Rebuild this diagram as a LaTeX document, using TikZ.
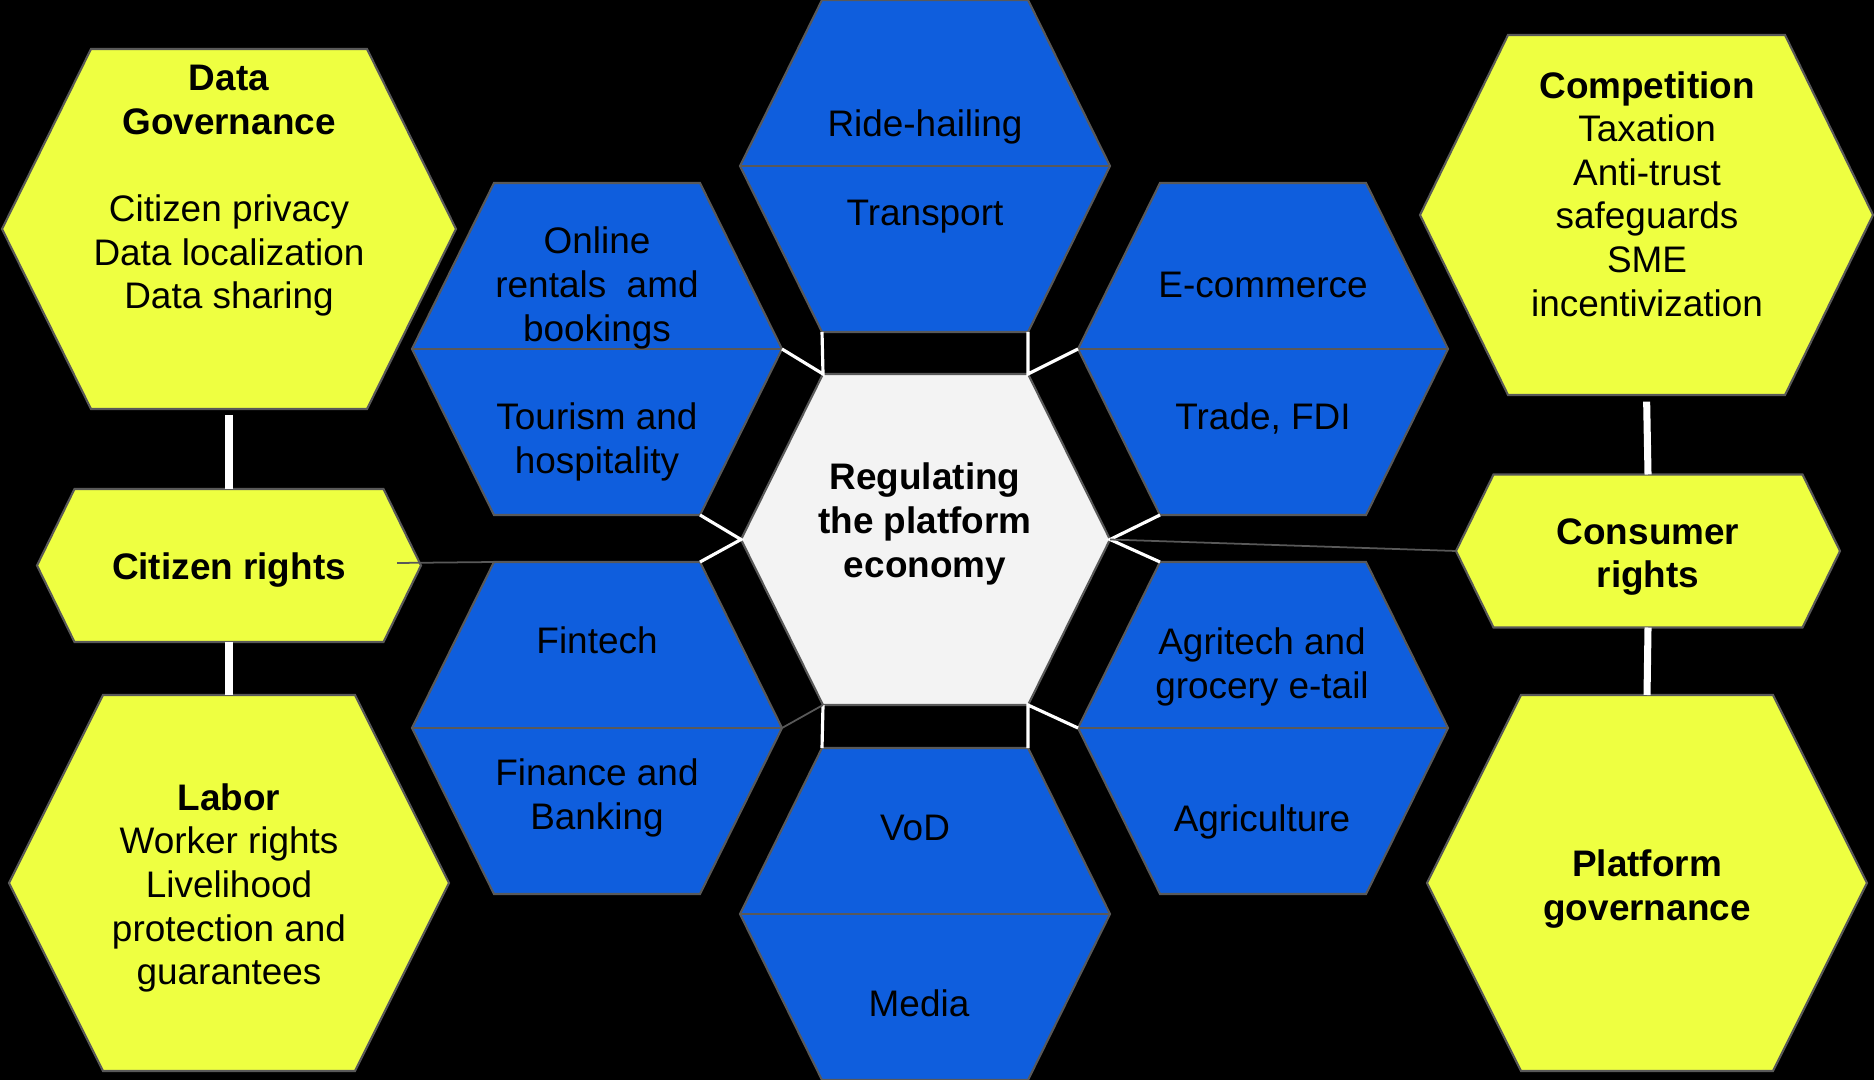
\documentclass[tikz,border=0pt]{standalone}
\usepackage{fontspec}
\setmainfont{Liberation Sans}
\definecolor{secblue}{RGB}{15,94,221}
\definecolor{topicyellow}{RGB}{238,255,65}
\definecolor{hubgray}{RGB}{243,243,243}
\definecolor{edgegray}{RGB}{89,89,89}
% hexagon: name, cx, cy, half width, half top edge, half height, style
\newcommand{\hexcell}[7]{%
  \draw[#7] (#2-#4,#3) coordinate (#1-l)
    -- (#2-#5,#3-#6) coordinate (#1-tl) -- (#2+#5,#3-#6) coordinate (#1-tr)
    -- (#2+#4,#3) coordinate (#1-r)
    -- (#2+#5,#3+#6) coordinate (#1-br) -- (#2-#5,#3+#6) coordinate (#1-bl) -- cycle;
  \coordinate (#1-t) at (#2,#3-#6);
  \coordinate (#1-b) at (#2,#3+#6);
}
\tikzset{
  hexblue/.style={fill=secblue, draw=edgegray, line width=0.6pt},
  hexyellow/.style={fill=topicyellow, draw=edgegray, line width=0.6pt},
  hexhub/.style={fill=hubgray, draw=edgegray, line width=0.6pt},
  lbl/.style={align=center, inner sep=0pt, text=black, font=\fontsize{10.5}{12.4}\selectfont},
  boldlbl/.style={lbl, font=\fontsize{10.5}{12.4}\selectfont\bfseries},
  link/.style={draw=white, line width=0.9pt},
  thinlink/.style={draw=edgegray, line width=0.5pt},
  stem/.style={draw=white, line width=2pt},
}
\begin{document}
\begin{tikzpicture}[x=0.01cm, y=-0.01cm]
\useasboundingbox (0,0) rectangle (1874,1080);
\fill[black] (0,0) rectangle (1874,1080);

% sectors round the hub
\hexcell{T}{925}{166}{185}{103}{166}{hexblue}
\hexcell{B}{925}{914}{185}{103}{166}{hexblue}
\hexcell{UL}{597}{349}{185}{103}{166}{hexblue}
\hexcell{LL}{597}{728}{185}{103}{166}{hexblue}
\hexcell{UR}{1263}{349}{185}{103}{166}{hexblue}
\hexcell{LR}{1263}{728}{185}{103}{166}{hexblue}
\foreach \c in {T,B,UL,LL,UR,LR}
{
	\draw[edgegray, line width=0.6pt] (\c-l) -- (\c-r);
}
\hexcell{H}{925.5}{539.5}{184.5}{102.5}{165.5}{hexhub}

% policy areas
\hexcell{DG}{229}{229}{227}{138}{180}{hexyellow}
\hexcell{CR}{229}{565.5}{192}{154.5}{76.5}{hexyellow}
\hexcell{LB}{229}{883}{220}{126}{188}{hexyellow}
\hexcell{CP}{1646.5}{215}{226.5}{138.5}{180}{hexyellow}
\hexcell{CN}{1648}{551}{192}{154.5}{76.5}{hexyellow}
\hexcell{PG}{1647}{883}{220}{126}{188}{hexyellow}

% labels
\node[lbl] (ride) at (925,127) {Ride-hailing};
\node[lbl] (transport) at (925,217) {Transport};
\node[lbl] (vod) at (915,828) {VoD};
\node[lbl] (media) at (919,1003) {Media};
\node[lbl] (online) at (597,288) {Online\\rentals\ \ amd\\bookings};
\node[lbl] (tourism) at (597,442) {Tourism and\\hospitality};
\node[lbl] (fintech) at (597,640) {Fintech};
\node[lbl] (finance) at (597,798) {Finance and\\Banking};
\node[lbl] (ecomm) at (1263,285) {E-commerce};
\node[lbl] (trade) at (1263,418) {Trade, FDI};
\node[lbl] (agritech) at (1262,667) {Agritech and\\grocery e-tail};
\node[lbl] (agri) at (1262,822) {Agriculture};
\node[boldlbl] (hub) at (925,524) {Regulating\\the platform\\economy};

\node[lbl] (datagov) at (229,191) {\textbf{Data}\\\textbf{Governance}\\[12.4pt]Citizen privacy\\Data localization\\Data sharing};
\node[boldlbl] (citizen) at (229,570) {Citizen rights};
\node[lbl] (labor) at (229,888) {\textbf{Labor}\\Worker rights\\Livelihood\\protection and\\guarantees};
\node[lbl] (competition) at (1647,194) {\textbf{Competition}\\Taxation\\Anti-trust\\safeguards\\SME\\incentivization};
\node[boldlbl] (consumer) at (1648,557) {Consumer\\rights};
\node[boldlbl] (platform) at (1647,889) {Platform\\governance};

% links to the hub
\draw[link] (UL-r) -- (H-tl) -- (T-bl);
\draw[link] (UR-l) -- (H-tr) -- (T-br);
\draw[link] (UL-br) -- (H-l) -- (LL-tr);
\draw[link] (UR-bl) -- (H-r) -- (LR-tl);
\draw[link] (H-bl) -- (B-tl);
\draw[thinlink] (H-bl) -- (LL-r);
\draw[link] (LR-l) -- (H-br) -- (B-tr);
\draw[thinlink] (H-r) -- (CN-l);
\coordinate (crtail) at (397,563);
\draw[thinlink] (crtail) -- (LL-tl);

% stems between policy areas
\draw[stem, shorten <=1.7pt] (DG-b) -- (CR-t);
\draw[stem] (CR-b) -- (LB-t);
\draw[stem, shorten <=1.9pt] (CP-b) -- (CN-t);
\draw[stem] (CN-b) -- (PG-t);
\end{tikzpicture}
\end{document}
